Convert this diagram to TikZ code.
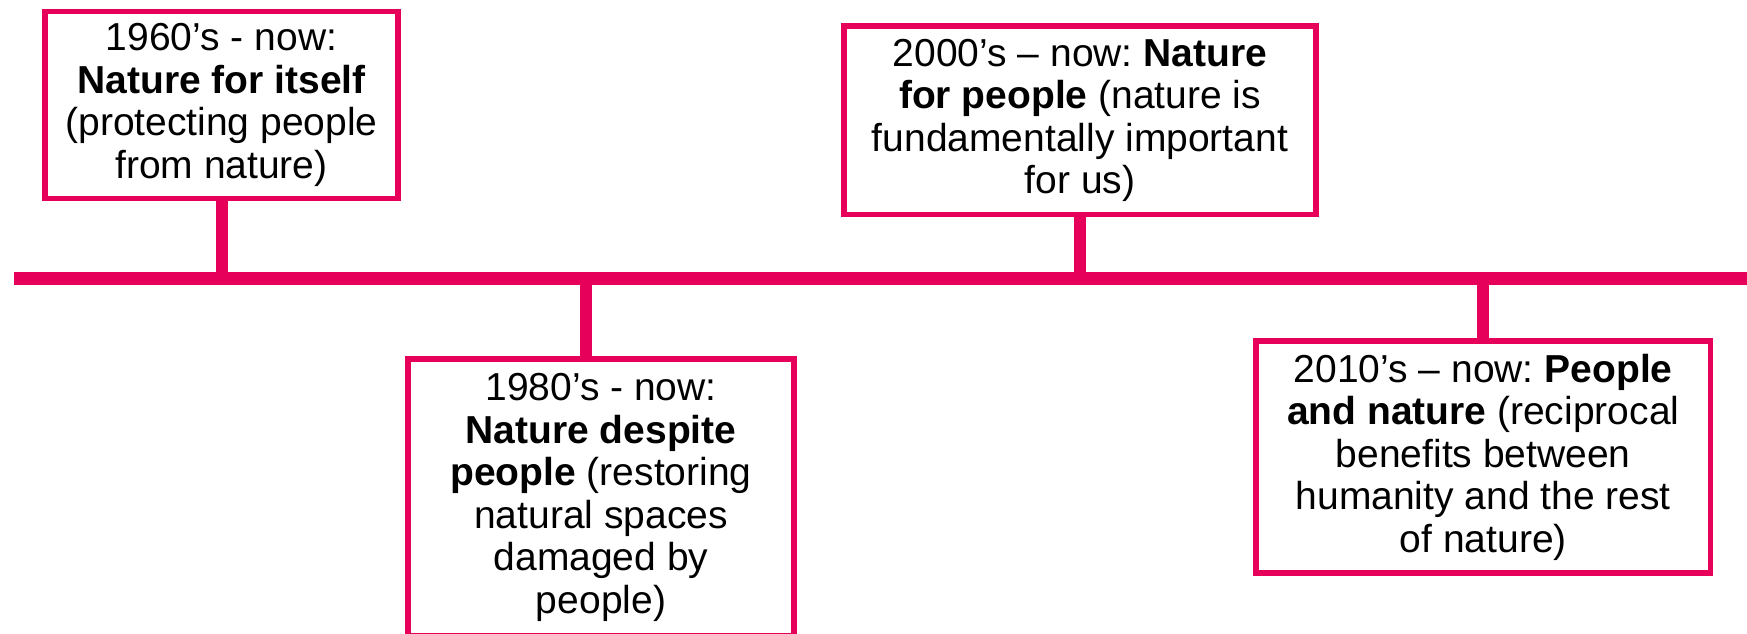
\documentclass[tikz,border=0pt]{standalone}
\usepackage{fontspec}
\setmainfont{Liberation Sans}
\definecolor{tlpink}{RGB}{230,0,90}
\frenchspacing
\begin{document}
\begin{tikzpicture}[x=0.5pt,y=-0.5pt,
  era/.style={draw=tlpink, line width=2.75pt, fill=white, rectangle, inner sep=0pt, outer sep=0pt, align=center, font=\fontsize{19.5}{21.25}\selectfont, text=black},
  stem/.style={draw=tlpink, line width=6pt},
  axis/.style={draw=tlpink, line width=6.5pt}]
\useasboundingbox (0,0) rectangle (1747,633);
\clip (0,0) rectangle (1747,633);
\fill[white] (0,0) rectangle (1747,633);
\coordinate (axisL) at (14,278);
\coordinate (axisR) at (1770,278);
\coordinate (s2) at (586,278);
% boxes
\node[era, minimum width=176.5pt, minimum height=93.5pt] (b1) at (221.5,105)
  {1960’s - now:\\ \textbf{Nature for itself}\\ (protecting people\\ from nature)};
\node[era, minimum width=193pt, minimum height=138.5pt] (b2) at (601,497.5)
  {1980’s - now:\\ \textbf{Nature despite}\\ \textbf{people} (restoring\\ natural spaces\\ damaged by\\ people)};
\node[era, minimum width=236pt, minimum height=94.25pt] (b3) at (1080,120.25)
  {2000’s – now: \textbf{Nature}\\ \textbf{for people} (nature is\\ fundamentally important\\ for us)};
\node[era, minimum width=227.25pt, minimum height=116pt] (b4) at (1483.25,457)
  {2010’s – now: \textbf{People}\\ \textbf{and nature} (reciprocal\\ benefits between\\ humanity and the rest\\ of nature)};
% stems
\draw[stem] (b1.south) -- (b1.south |- axisL);
\draw[stem] (s2) -- (s2 |- b2.north);
\draw[stem] (b3.south) -- (b3.south |- axisL);
\draw[stem] (b4.north) -- (b4.north |- axisL);
% axis
\draw[axis] (axisL) -- (axisR);
% redraw box borders over stem ends
\foreach \b in {b1,b2,b3,b4}{\draw[tlpink, line width=2.75pt] (\b.north west) rectangle (\b.south east);}
\end{tikzpicture}
\end{document}
